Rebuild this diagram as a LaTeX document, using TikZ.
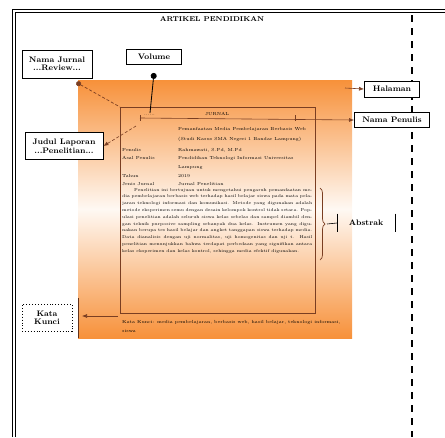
\documentclass[tikz,border=0pt]{standalone}
\usepackage{tikz}
\usetikzlibrary{positioning,arrows.meta,decorations.pathreplacing}

\definecolor{jingga}{HTML}{F7913A}
\definecolor{kertas}{HTML}{7A3E22}

\tikzset{
  labelbox/.style={draw, line width=0.9pt, fill=white, align=center, inner sep=1.5pt,
    font=\fontsize{8}{8.5}\selectfont\bfseries},
  isi/.style={anchor=west, inner sep=0pt, font=\fontsize{4.4}{5}\selectfont},
  penunjuk/.style={kertas, line width=0.6pt, -{Latex[length=5pt,width=4pt]}},
}

\begin{document}
\begin{tikzpicture}[x=1pt, y=-1pt]
    \useasboundingbox (0,0) rectangle (445,437);
    % bingkai halaman
    \draw[line width=1.3pt, double distance=1.4pt] (14,437) -- (14,11) -- (445,11);
    \draw[line width=1.3pt, dash pattern=on 7pt off 6pt] (412,15) -- (412,437);
    \node[font=\fontsize{7}{8}\selectfont\bfseries] (judul) at (212,19) {ARTIKEL PENDIDIKAN};

    % latar jingga dan kertas artikel
    \shade[top color=jingga, bottom color=jingga, middle color=jingga!6] (78,80) rectangle (352,338);
    \draw[kertas!80!black, line width=1pt] (78,298) -- (78,338);
    \draw[kertas, line width=0.6pt] (120,107) rectangle (315,313);
    \coordinate (sudut) at (120,107);
    \coordinate (atas) at (150,113);
    \coordinate (kiri) at (136,126);
    \coordinate (kanan) at (345,88);
    \coordinate (kepala) at (140,118);
    \coordinate (bawah) at (118,316);
    \coordinate (tepi) at (82,316);

    % isi artikel
    \draw[kertas, line width=0.4pt] (140,115) -- (140,121) (295,115) -- (295,121);
    \node[isi] at (144,115) {......};
    \node[isi] at (205,114) {JURNAL};
    \node[isi] at (178,129) {Pemanfaatan Media Pembelajaran Berbasis Web};
    \node[isi] at (178,139) {(Studi Kasus SMA Negeri 1 Bandar Lampung)};
    \node[isi] at (122,150) {Penulis};
    \node[isi] at (178,150) {Rahmawati, S.Pd, M.Pd};
    \node[isi] at (122,158) {Asal Penulis};
    \node[isi] at (178,158) {Pendidikan Teknologi Informasi Universitas};
    \node[isi] at (178,167) {Lampung};
    \node[isi] at (122,176) {Tahun};
    \node[isi] at (178,176) {2019};
    \node[isi] at (122,184) {Jenis Jurnal};
    \node[isi] at (178,184) {Jurnal Penelitian};
    \node[isi, anchor=north west, text width=190pt, align=justify,
          font=\fontsize{4.2}{6.8}\selectfont] (paragraf) at (122,188) {%
      \hspace*{12pt}Penelitian ini bertujuan untuk mengetahui pengaruh pemanfaatan media
      pembelajaran berbasis web terhadap hasil belajar siswa pada mata pelajaran teknologi
      informasi dan komunikasi. Metode yang digunakan adalah metode eksperimen semu dengan
      desain kelompok kontrol tidak setara. Populasi penelitian adalah seluruh siswa kelas
      sebelas dan sampel diambil dengan teknik purposive sampling sebanyak dua kelas.
      Instrumen yang digunakan berupa tes hasil belajar dan angket tanggapan siswa terhadap
      media. Data dianalisis dengan uji normalitas, uji homogenitas dan uji t. Hasil
      penelitian menunjukkan bahwa terdapat perbedaan yang signifikan antara kelas eksperimen
      dan kelas kontrol, sehingga media efektif digunakan.};
    \node[isi] at (122,322) {Kata Kunci: media pembelajaran, berbasis web, hasil belajar, teknologi informasi,};
    \node[isi] at (122,331) {siswa};

    % label
    \node[labelbox, minimum width=70pt, minimum height=28pt] (jurnal) at (57,64) {Nama Jurnal\\...Review...};
    \node[labelbox, minimum width=55pt, minimum height=15pt] (volume) at (154,57) {Volume};
    \node[labelbox, minimum width=78pt, minimum height=27pt] (laporan) at (64,146) {Judul Laporan\\...Penelitian...};
    \node[labelbox, minimum width=55pt, minimum height=16pt] (halaman) at (392,89) {Halaman};
    \node[labelbox, minimum width=75pt, minimum height=15pt] (penulis) at (392,120) {Nama Penulis};
    \node[labelbox, draw=none, fill=none, minimum width=57pt, minimum height=18pt] (abstrak) at (366,223) {Abstrak};
    \draw[line width=0.9pt] (abstrak.north west) -- (abstrak.south west)
                            (abstrak.north east) -- (abstrak.south east);
    \node[labelbox, dotted, fill=none, minimum width=50pt, minimum height=27pt] (kunci) at (47,318) {Kata\\Kunci};

    % penunjuk
    \draw[kertas, densely dashed, line width=0.7pt, {Circle[length=5pt]}-] (jurnal.south east) ++(-16,4) -- (sudut);
    \draw[line width=0.8pt, {Circle[length=6pt]}-] (volume.south) ++(0,8) -- (atas);
    \draw[penunjuk, densely dashed] (kiri) -- (laporan.east);
    \draw[penunjuk] (kanan) -- (halaman.west);
    \draw[penunjuk] (kepala) -- (penulis.west);
    \draw[kertas, line width=0.7pt, decorate, decoration={brace, amplitude=5pt}]
        (320,188) -- coordinate[pos=0.5, xshift=7pt] (ujung) (320,260);
    \draw[line width=0.6pt] (ujung) -- (abstrak.west);
    \draw[penunjuk] (bawah) -- (tepi);
\end{tikzpicture}
\end{document}
